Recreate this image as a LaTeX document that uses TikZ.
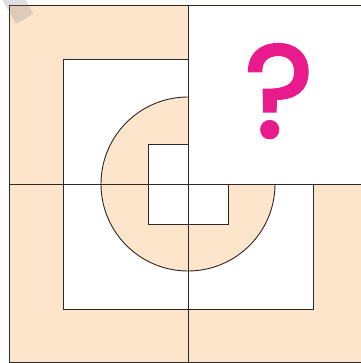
\documentclass[tikz,border=0pt]{standalone}
\usepackage{fontspec}
\newfontfamily\qfont{Poppins}[UprightFeatures={FakeBold=2.4}]
\definecolor{peach}{RGB}{253,229,203}
\definecolor{qpink}{RGB}{232,26,140}
\definecolor{linec}{RGB}{45,40,38}
\tikzset{
  outline/.style={draw=linec, line width=0.9pt},
  tape/.style={fill=gray, fill opacity=0.25, draw=none}
}
\begin{document}
\begin{tikzpicture}[x=1pt,y=-1pt]
\useasboundingbox (0,0) rectangle (360,363);
\fill[peach, even odd rule]
  (9,5) rectangle (366,362)
  (63,59) rectangle (313,309)
  (188,184) circle[radius=87]
  (148,144) rectangle (228,224);
\draw[outline] (9,5) rectangle (366,362);
\draw[outline] (63,59) rectangle (313,309);
\draw[outline] (188,184) circle[radius=87];
\draw[outline] (148,144) rectangle (228,224);
\draw[outline] (9,184) -- (366,184);
\draw[outline] (188,5) -- (188,362);
\draw[outline, fill=white] (188,5) rectangle (366,184);
\node[anchor=base, text=qpink, inner sep=0pt, font=\qfont\fontsize{131}{131}\selectfont] (q) at (279,137) {?};
\fill[tape] (25,-2) -- (33,14) -- (16,24) -- (0,-4) -- cycle;
\end{tikzpicture}
\end{document}
